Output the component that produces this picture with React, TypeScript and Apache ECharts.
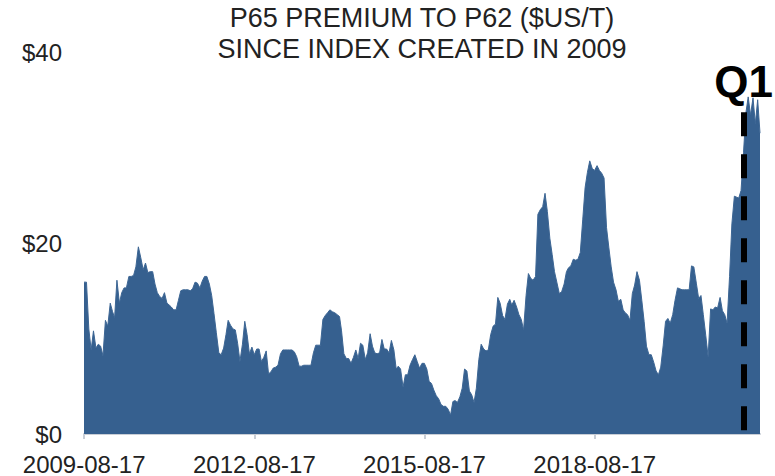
import React, { useEffect, useRef } from 'react';
import * as echarts from 'echarts';

// ---- data ----
const titleLines = ['P65 PREMIUM TO P62 ($US/T)', 'SINCE INDEX CREATED IN 2009'];
const tickDates = ['2009-08-17', '2012-08-17', '2015-08-17', '2018-08-17'];
const yTicks = [0, 20, 40];
const q1Date = '2021-04-01';
const q1Label = 'Q1';
const q1Top = 33.7;

// semi-monthly readings (16th and 1st of each month), starting 2009-08-16
const premium2009 = [
  15.9, 15.9, 11.0, 8.8, 10.8, 9.0, 9.4, 9.2, 8.2, 11.9,
  11.3, 13.7, 12.8, 12.2, 16.1, 13.7, 14.8, 15.3, 15.3, 16.5,
  16.5, 16.6, 17.5, 19.6, 18.5, 17.2, 17.9, 16.9, 17.0, 17.0,
  15.7, 14.8, 14.4, 14.2, 14.8, 13.7, 13.5, 13.3, 13.0, 13.0,
  14.0, 15.0, 15.1, 15.1, 15.1, 15.0, 15.2, 15.9, 15.8, 15.3,
  16.0, 16.5, 16.5, 15.7, 14.5, 12.6, 10.6, 8.5,
];
const premium2012 = [
  8.3, 9.0, 10.4, 11.9, 11.4, 11.0, 10.9, 9.5, 7.6, 9.4,
  11.8, 10.4, 8.4, 9.1, 8.3, 8.9, 8.9, 7.6, 8.0, 8.7,
  6.3, 6.5, 6.9, 7.0, 7.2, 8.4, 8.8, 8.8, 8.8, 8.8,
  8.8, 8.6, 8.1, 7.1, 7.1, 7.2, 7.2, 7.2, 7.2, 8.5,
  9.3, 9.3, 9.3, 12.0, 12.4, 12.7, 13.0, 12.8, 12.7, 12.5,
  12.3, 10.8, 8.4, 7.9, 7.9, 7.4, 8.0,
];
const premium2014 = [
  8.8, 7.9, 9.5, 9.3, 7.8, 8.5, 10.5, 9.2, 8.5, 8.4,
  8.5, 9.9, 8.9, 8.9, 8.5, 9.8, 8.8, 6.8, 7.1, 6.8,
  4.9, 6.2, 6.2, 7.2, 7.8, 8.3, 7.6, 6.9, 7.4, 7.4,
  6.8, 5.5, 5.3, 4.6, 4.0, 3.7, 3.1, 2.9, 2.9, 2.6,
  2.0, 3.4, 3.5, 3.3, 3.9, 4.8, 6.8, 6.6, 4.5, 4.1,
  3.3, 4.8, 7.8, 9.4, 8.9, 8.7, 8.8, 10.4,
];
const premium2016 = [
  11.3, 11.5, 14.3, 13.7, 12.4, 12.0, 13.6, 14.1, 13.5, 14.0,
  13.3, 12.5, 12.0, 10.9, 14.5, 16.8, 16.3, 16.1, 16.5, 23.0,
  23.5, 23.8, 25.2, 23.3, 20.5, 18.8, 17.0, 15.9, 14.7, 14.9,
  15.7, 17.0, 17.4, 17.6, 18.3, 18.2, 18.3, 19.0, 22.5, 25.8,
  27.4, 28.6, 27.8, 27.6, 28.1, 27.6, 27.3, 26.8, 21.6, 19.5,
  17.5, 15.9, 15.1, 13.9, 14.1, 13.0, 12.7, 12.5,
];
const premium2019 = [
  11.9, 14.7, 15.6, 17.0, 16.1, 14.0, 11.8, 9.2, 8.3, 8.3,
  7.5, 6.6, 6.2, 7.0, 9.3, 11.8, 12.1, 11.6, 12.5, 14.0,
  15.3, 15.2, 15.1, 15.1, 15.1, 15.1, 17.6, 17.5, 15.8, 14.2,
  14.5, 12.5, 10.3, 8.1, 13.1, 13.0, 13.3, 13.2, 14.3, 12.9,
  12.5, 11.6, 16.5, 22.0, 24.9, 24.8, 24.7, 25.5, 29.5, 33.6,
  35.3, 33.4, 35.2, 32.5, 35.0, 31.5,
];

const values = [...premium2009, ...premium2012, ...premium2014, ...premium2016, ...premium2019];

const parseDay = (s: string) => {
  const [y, m, d] = s.split('-').map(Number);
  return new Date(y, m - 1, d).getTime();
};
const pad = (n: number) => (n < 10 ? '0' + n : '' + n);
const fmtDay = (t: number) => {
  const d = new Date(t);
  return `${d.getFullYear()}-${pad(d.getMonth() + 1)}-${pad(d.getDate())}`;
};
// sample i -> 16th (even) or 1st (odd) of month, from Aug 2009
const sampleDate = (i: number) => new Date(2009, 7 + Math.ceil(i / 2), i % 2 === 0 ? 16 : 1).getTime();

const FONT = "'Liberation Sans', Arial, sans-serif";
const AREA = '#36608f';

export default function App() {
  const ref = useRef<HTMLDivElement>(null);
  useEffect(() => {
    if (!ref.current) return;
    const chart = echarts.init(ref.current, undefined, { renderer: 'svg' });
    const seriesData = values.map((v, i) => [sampleDate(i), v]);
    const ticks = tickDates.map(parseDay);
    const q1 = parseDay(q1Date);
    chart.setOption({
      animation: false,
      backgroundColor: '#ffffff',
      grid: { left: 84, right: 15, top: 52, bottom: 42, containLabel: false },
      graphic: [
        {
          type: 'text',
          x: 422,
          y: 18,
          style: {
            text: titleLines[0],
            fontSize: 27,
            fontFamily: FONT,
            fill: '#222',
            align: 'center',
            verticalAlign: 'middle',
          },
        },
        {
          type: 'text',
          x: 422,
          y: 49,
          style: {
            text: titleLines[1],
            fontSize: 27,
            fontFamily: FONT,
            fill: '#222',
            align: 'center',
            verticalAlign: 'middle',
          },
        },
      ],
      xAxis: {
        type: 'value',
        min: sampleDate(0),
        max: sampleDate(values.length - 1),
        axisLine: { show: true, lineStyle: { color: '#c9ced6', width: 2 } },
        axisTick: { show: true, customValues: ticks, length: 5, lineStyle: { color: '#c9ced6', width: 2 } },
        axisLabel: {
          customValues: ticks,
          formatter: (v: number) => fmtDay(v),
          fontSize: 24,
          fontFamily: FONT,
          color: '#222',
          margin: 18,
          showMinLabel: true,
          showMaxLabel: true,
          hideOverlap: false,
        },
        splitLine: { show: false },
      },
      yAxis: {
        type: 'value',
        min: yTicks[0],
        max: yTicks[yTicks.length - 1],
        interval: yTicks[1] - yTicks[0],
        axisLine: { show: false },
        axisTick: { show: false },
        splitLine: { show: false },
        axisLabel: {
          formatter: (v: number) => '$' + v,
          fontSize: 24,
          fontFamily: FONT,
          color: '#222',
          margin: 22,
        },
      },
      series: [
        {
          type: 'line',
          data: seriesData,
          symbol: 'none',
          lineStyle: { width: 1, color: '#3d6694' },
          itemStyle: { color: AREA },
          areaStyle: { color: AREA, opacity: 1 },
          markLine: {
            silent: true,
            symbol: ['none', 'none'],
            lineStyle: { color: '#000', width: 6, type: [24, 18], cap: 'butt' },
            label: {
              show: true,
              position: 'start',
              formatter: q1Label,
              fontSize: 44,
              fontWeight: 'bold',
              fontFamily: FONT,
              color: '#000',
              distance: 9,
            },
            data: [[{ coord: [q1, q1Top] }, { coord: [q1, 0] }]],
          },
        },
      ],
    });
    return () => chart.dispose();
  }, []);
  return <div ref={ref} style={{ position: 'fixed', left: 0, top: 0, width: 775, height: 476 }} />;
}
